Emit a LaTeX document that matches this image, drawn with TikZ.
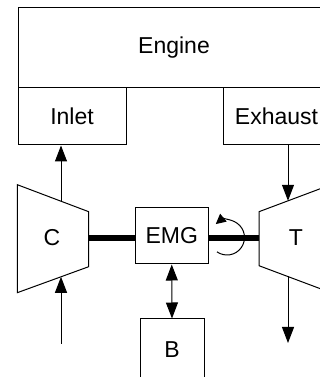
\documentclass[tikz,border=0pt]{standalone}
\usepackage{fontspec}
\setmainfont{Liberation Sans}
\usepackage{tikz}
\usetikzlibrary{arrows.meta,positioning,calc}

\begin{document}
\begin{tikzpicture}[x=1pt,y=1pt,line width=1pt,every node/.style={font=\fontsize{23}{27}\selectfont},
  box/.style={draw,rectangle,inner sep=0pt},
  flow/.style={-{Triangle[length=16pt,width=12pt]}},
  shaft/.style={line width=6pt}]
\useasboundingbox (0,0) rectangle (320,377);
\clip (0,0) rectangle (320,377);

% Engine with inlet and exhaust manifolds
\node[box,minimum width=312pt,minimum height=80pt] (engine) at (174,329) {Engine};
\node[box,minimum width=108pt,minimum height=57pt] (inlet) at (72,260.5) {Inlet};
\node[box,minimum width=107pt,minimum height=57pt] (exhaust) at (276.5,260.5) {Exhaust};

% Compressor and turbine
\coordinate (cTL) at (17.3,192.3);
\coordinate (cBL) at (17.3,84.3);
\coordinate (cBR) at (88.7,110.3);
\coordinate (cTR) at (88.7,165.3);
\draw (cTL) -- (cBL) -- (cBR) -- (cTR) -- cycle;
\node (comp) at (52,139) {C};

\coordinate (tTL) at (259,165.3);
\coordinate (tBL) at (259,111.3);
\coordinate (tBR) at (331,84.3);
\coordinate (tTR) at (331,192.3);
\draw (tTL) -- (tBL) -- (tBR) -- (tTR) -- cycle;
\node (turb) at (296,139) {T};

% Electric machine and battery
\node[box,minimum width=72.5pt,minimum height=56.5pt] (emg) at (171.75,141.25) {EMG};
\node[box,minimum width=64pt,minimum height=62pt] (batt) at (172,27) {B};

% Shaft
\draw[shaft] (cBR |- 0,138.5) -- (emg.west |- 0,138.5);
\draw[shaft] (emg.east |- 0,138.5) -- (tBL |- 0,138.5);
\draw[-{Triangle[length=10pt,width=10pt]}] (227,139.5) ++(-125:17.5) arc[start angle=-125,end angle=130,radius=17.5];

% Gas flow
\coordinate (cin) at (61,100.2);
\coordinate (cout) at (61,175.8);
\coordinate (tin) at (288,176.2);
\coordinate (tout) at (288,100.6);
\draw[flow] (61,33) -- (cin);
\draw[flow] (cout) -- (cout |- inlet.south);
\draw[flow] (tin |- exhaust.south) -- (tin);
\draw[flow] (tout) -- (288,34);
\draw[{Triangle[length=16pt,width=12pt]}-{Triangle[length=16pt,width=12pt]}] (emg.south) -- (batt.north);

\end{tikzpicture}
\end{document}
